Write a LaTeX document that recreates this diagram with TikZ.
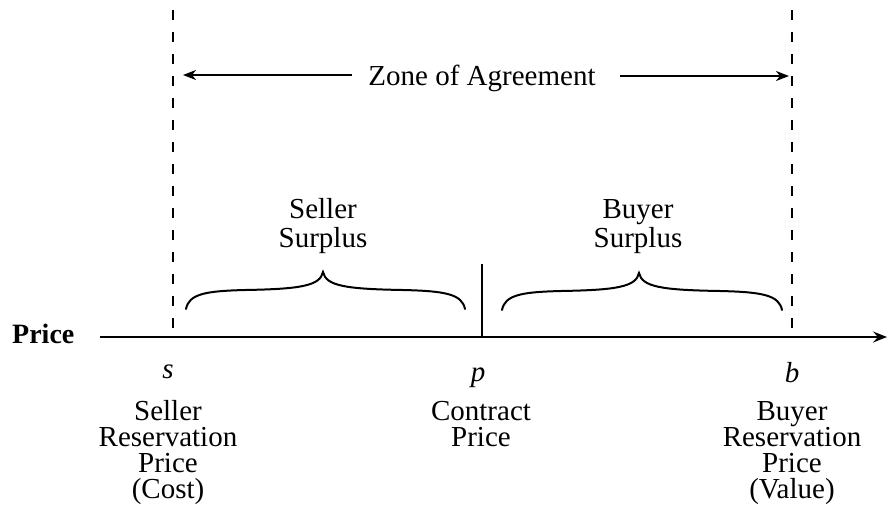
\documentclass[tikz,border=0pt]{standalone}
\usepackage{fontspec}
\setmainfont{Liberation Serif}
\usetikzlibrary{arrows.meta}
\begin{document}
\begin{tikzpicture}[x=1pt,y=-1pt,
  lbl/.style={inner sep=0pt, anchor=base, align=center, font=\fontsize{29}{26}\selectfont},
  surp/.style={inner sep=0pt, anchor=base, align=center, font=\fontsize{29}{29}\selectfont},
  var/.style={inner sep=0pt, anchor=base, font=\fontsize{29}{26}\selectfont\itshape},
  guide/.style={line width=1.4pt, dash pattern=on 10pt off 12pt},
  axisline/.style={line width=2pt, -{Stealth[length=14pt,width=11pt,inset=5pt]}},
  brc/.style={line width=2pt, line cap=round},
  zonearrow/.style={line width=2pt, -{Stealth[length=13pt,width=10pt,inset=4pt]}}
]
\useasboundingbox (0,0) rectangle (888,507);
% guide lines
\coordinate (sTop) at (173,10);
\coordinate (sBot) at (173,337);
\coordinate (bTop) at (792,10);
\coordinate (bBot) at (792,337);
\draw[guide] (sTop) -- (sBot);
\draw[guide] (bTop) -- (bBot);
% axis
\node[inner sep=0pt, anchor=base west, font=\fontsize{28}{28}\selectfont\bfseries] (price) at (12,343) {Price};
\coordinate (axL) at (100,337);
\coordinate (axR) at (887,337);
\draw[axisline] (axL) -- (axR);
% contract price tick
\coordinate (pTop) at (482,264);
\coordinate (pBot) at (482,337);
\draw[line width=1.5pt] (pTop) -- (pBot);
% zone of agreement
\node[lbl] (zone) at (482,85) {Zone of Agreement};
\coordinate (zL0) at (352,75);
\coordinate (zL1) at (183,75);
\coordinate (zR0) at (620,76);
\coordinate (zR1) at (789,76);
\draw[zonearrow] (zL0) -- (zL1);
\draw[zonearrow] (zR0) -- (zR1);
% braces
\draw[brc] (186,309) .. controls (189,294) and (205,291) .. (245,290)
  .. controls (300,289) and (320,286) .. (323,272)
  .. controls (326,286) and (346,289) .. (403,290)
  .. controls (445,291) and (462,294) .. (465,309);
\draw[brc] (502,310) .. controls (505,295) and (521,292) .. (561,291)
  .. controls (616,290) and (636,287) .. (639,273)
  .. controls (642,287) and (662,290) .. (720,291)
  .. controls (762,292) and (779,295) .. (782,310);
% (base anchor of a multi-line node = baseline of its last line)
\node[surp] (ssur) at (323,247) {Seller\\Surplus};
\node[surp] (bsur) at (638,247) {Buyer\\Surplus};
% axis labels
\node[var] (s) at (168,378) {s};
\node[var] (p) at (478,381) {p};
\node[var] (b) at (792,382) {b};
\node[lbl] (srp) at (168,498) {Seller\\Reservation\\Price\\(Cost)};
\node[lbl] (cp) at (481,446) {Contract\\Price};
\node[lbl] (brp) at (792,498) {Buyer\\Reservation\\Price\\(Value)};
\end{tikzpicture}
\end{document}
